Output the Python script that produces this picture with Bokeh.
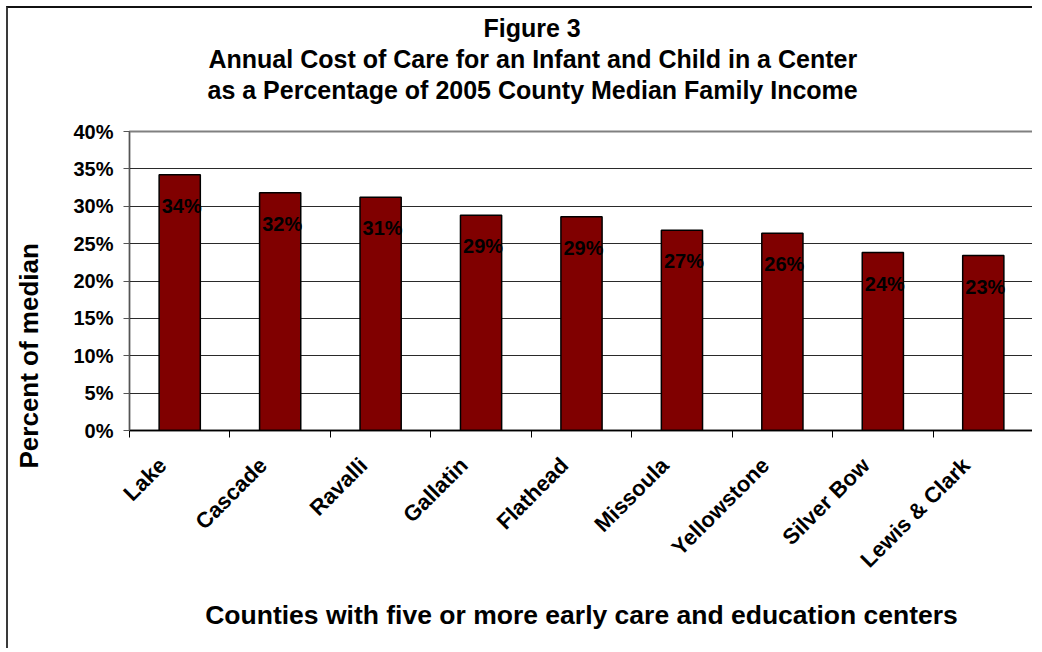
import math
from bokeh.plotting import figure
from bokeh.models import (FixedTicker, PrintfTickFormatter, Title,
                          ColumnDataSource, Range1d)
from bokeh.core.properties import value
from bokeh.embed import file_html
from bokeh.resources import INLINE

# ---- data ----
counties = ["Lake", "Cascade", "Ravalli", "Gallatin", "Flathead", "Missoula",
            "Yellowstone", "Silver Bow", "Lewis & Clark"]
pct_of_median = [34.2, 31.8, 31.2, 28.8, 28.6, 26.8, 26.4, 23.8, 23.4]
y_ticks = [0, 5, 10, 15, 20, 25, 30, 35, 40]
title_lines = ["Figure 3",
               "Annual Cost of Care for an Infant and Child in a Center",
               "as a Percentage of 2005 County Median Family Income"]
x_title = "Counties with five or more early care and education centers"
y_title = "Percent of median"

FONT = "Liberation Sans"
LABEL_SHIFT = -0.17                 # nudge of rotated category labels (style)
TITLE_OFFSETS = [354, 79, 78]       # left offsets (px) of the title lines (style)

xpos = [i + 0.5 for i in range(len(counties))]
label_pos = [x + LABEL_SHIFT for x in xpos]
labels = [f"{round(v)}%" for v in pct_of_median]
src = ColumnDataSource(dict(x=xpos, top=pct_of_median, label=labels))

p = figure(width=1026, height=642,
           x_range=Range1d(0, len(counties)), y_range=Range1d(0, 40),
           output_backend="svg", toolbar_location=None,
           min_border_left=121, min_border_right=1,
           min_border_top=123, min_border_bottom=220,
           background_fill_color="white", border_fill_color="white")

# ---- titles: spacer + lines (first added = closest to the plot) ----
p.add_layout(Title(text=" ", text_font_size="23.5px", standoff=0), "above")
p.add_layout(Title(text=title_lines[2], align="left", offset=TITLE_OFFSETS[2],
                   text_font=FONT, text_font_size="25px", text_font_style="bold",
                   text_color="black", standoff=0), "above")
p.add_layout(Title(text=title_lines[1], align="left", offset=TITLE_OFFSETS[1],
                   text_font=FONT, text_font_size="25px", text_font_style="bold",
                   text_color="black", standoff=2), "above")
p.title.text = title_lines[0]
p.title.align = "left"
p.title.offset = TITLE_OFFSETS[0]
p.title.text_font = FONT
p.title.text_font_size = "25px"
p.title.text_font_style = "bold"
p.title.text_color = "black"
p.title.standoff = 0

# ---- bars ----
p.vbar(x="x", top="top", bottom=0, width=0.41, source=src,
       fill_color="#800000", line_color="black", line_width=1.5)

# ---- data labels ----
p.text(x="x", y="top", text="label", source=src,
       text_align="center", text_baseline="alphabetic",
       x_offset=2, y_offset=31,
       text_font=value(FONT), text_font_style="bold",
       text_font_size="20px", text_color="black")

# ---- grid / outline ----
p.xgrid.grid_line_color = None
p.ygrid.ticker = FixedTicker(ticks=y_ticks)
p.ygrid.grid_line_color = "#2a2a2a"
p.ygrid.grid_line_width = 1
p.outline_line_color = "#808080"
p.outline_line_width = 2

# ---- y axis ----
p.yaxis.ticker = FixedTicker(ticks=y_ticks)
p.yaxis.formatter = PrintfTickFormatter(format="%d%%")
p.yaxis.major_label_text_font = FONT
p.yaxis.major_label_text_font_style = "bold"
p.yaxis.major_label_text_font_size = "20px"
p.yaxis.major_label_text_color = "black"
p.yaxis.major_tick_out = 6
p.yaxis.major_tick_in = 0
p.yaxis.minor_tick_line_color = None
p.yaxis.axis_line_color = "#555555"
p.yaxis.major_tick_line_color = "#555555"
p.yaxis.major_label_standoff = 10

# y-axis title: spacer + left title anchored below the frame bottom
p.add_layout(Title(text=" ", text_font_size="22px", standoff=0), "left")
p.add_layout(Title(text=y_title, align="left", offset=-38,
                   text_font=FONT, text_font_size="26px",
                   text_font_style="bold", text_color="black",
                   standoff=0), "left")

# ---- x axis ----
p.xaxis.ticker = FixedTicker(ticks=label_pos,
                             minor_ticks=list(range(len(counties) + 1)))
p.xaxis.major_label_overrides = {xv: c for xv, c in zip(label_pos, counties)}
p.xaxis.major_tick_line_color = None
p.xaxis.major_tick_out = 6
p.xaxis.minor_tick_line_color = "black"
p.xaxis.minor_tick_out = 7
p.xaxis.minor_tick_in = 0
p.xaxis.axis_line_color = "black"
p.xaxis.axis_line_width = 1.5
p.xaxis.major_label_orientation = math.pi / 4
p.xaxis.major_label_standoff = 24
p.xaxis.major_label_text_font = FONT
p.xaxis.major_label_text_font_style = "bold"
p.xaxis.major_label_text_font_size = "22px"
p.xaxis.major_label_text_color = "black"
p.xaxis.axis_label = x_title
p.xaxis.axis_label_text_font = FONT
p.xaxis.axis_label_text_font_size = "26.5px"
p.xaxis.axis_label_text_font_style = "bold"
p.xaxis.axis_label_text_color = "black"
p.xaxis.axis_label_standoff = 16

p.styles = {"margin-left": "6px", "margin-top": "6px",
            "border-left": "2px solid #3a3a3a", "border-top": "2px solid #111111"}

open("out.html", "w").write(file_html(p, INLINE))
